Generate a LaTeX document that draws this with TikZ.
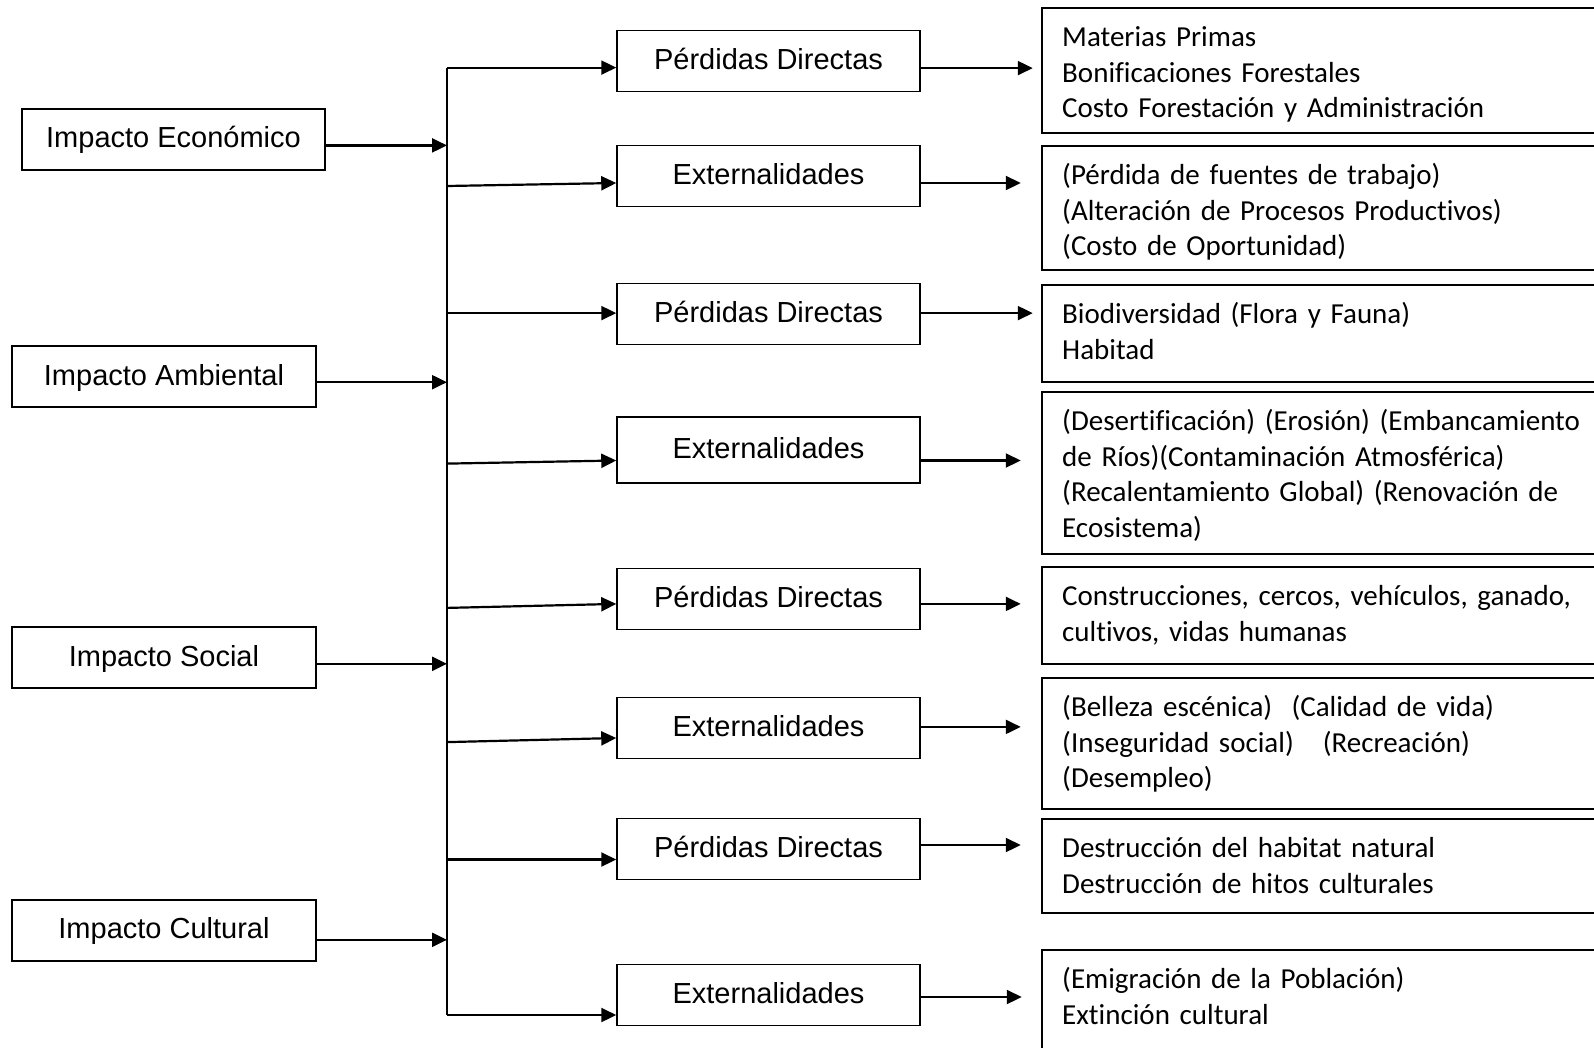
\documentclass[tikz,border=0pt]{standalone}
\usepackage{fontspec}
\usepackage{tikz}
\usetikzlibrary{arrows.meta}
\usetikzlibrary{positioning}
\newfontfamily\arialf{Liberation Sans}
\newfontfamily\calibrif[Ligatures=NoCommon]{Carlito}

\begin{document}
\begin{tikzpicture}[x=1pt,y=-1pt,
  caja/.style={draw, line width=1.5pt, minimum width=303pt, minimum height=61pt, inner sep=0pt,
    text height=21.5pt, text depth=4.5pt, font=\arialf\fontsize{29}{34}\selectfont},
  marco/.style={draw, line width=1.5pt, anchor=north west, minimum width=600pt, inner sep=0pt},
  lista/.style={inner sep=0pt, text width=560pt, align=left, font=\calibrif\fontsize{29}{35.6}\selectfont},
  flecha/.style={line width=2.2pt, -{Triangle[length=15pt,width=14pt]}}]
\useasboundingbox (0,0) rectangle (1594,1047);
\clip (0,0) rectangle (1594,1047);
% impactos
\node[caja] (eco) at (173.5,139.3) {Impacto Económico};
\node[caja, minimum width=304pt] (amb) at (164,376.5) {Impacto Ambiental};
\node[caja, minimum width=304pt] (soc) at (164,657.7) {Impacto Social};
\node[caja, minimum width=304pt] (cul) at (164,930.3) {Impacto Cultural};
% linea vertical
\coordinate (bus1) at (447,67.6);
\coordinate (bus2) at (447,1015);
\draw[line width=2.2pt] (bus1) -- (bus2);
\foreach \n/\d in {eco/6.1,amb/5.7,soc/6.1,cul/9.5}{
  \coordinate (s\n) at ([yshift=-\d pt]\n.east);
  \draw[flecha] (s\n) -- (s\n -| bus1);
}
% perdidas y externalidades
\foreach \i/\y/\h/\t in {1/61/61/Pérdidas Directas, 2/175.8/61/Externalidades,
  3/314.1/61/Pérdidas Directas, 4/449.8/66/Externalidades, 5/598.8/61/Pérdidas Directas,
  6/727.8/61/Externalidades, 7/849/61/Pérdidas Directas, 8/995/61/Externalidades}
  \node[caja, minimum height=\h pt] (m\i) at (768.5,\y) {\t};
% detalle
\foreach \i/\y/\h in {1/7/125, 2/145/124, 3/284/97, 4/391/162, 5/566/97, 6/677/131, 7/818/94, 8/949/110}
  \node[marco, minimum height=\h pt] (l\i) at (1041,\y) {};
\node[lista, below right=14.3pt and 21pt of l1.north west] (d1) {\strut Materias Primas\\
  Bonificaciones Forestales\\ Costo Forestación y Administración};
\node[lista, below right=14.3pt and 21pt of l2.north west] (d2) {\strut (Pérdida de fuentes de trabajo)\\
  (Alteración de Procesos Productivos)\\ (Costo de Oportunidad)};
\node[lista, below right=14.3pt and 21pt of l3.north west] (d3) {\strut Biodiversidad (Flora y Fauna)\\ Habitad};
\node[lista, below right=14.3pt and 21pt of l4.north west] (d4) {%
  \strut\makebox[496pt][s]{(Desertificación) (Erosión) (Embancamiento}\\
  \makebox[496pt][s]{de Ríos)(Contaminación Atmosférica)}\\
  \makebox[496pt][s]{(Recalentamiento Global) (Renovación de}\\ Ecosistema)};
\node[lista, below right=14.3pt and 21pt of l5.north west] (d5) {\strut Construcciones, cercos, vehículos, ganado,\\
  cultivos, vidas humanas};
\node[lista, below right=14.3pt and 21pt of l6.north west] (d6) {\strut (Belleza escénica)\ \ (Calidad de vida)\\
  (Inseguridad social)\ \ \ (Recreación)\\ (Desempleo)};
\node[lista, below right=14.3pt and 21pt of l7.north west] (d7) {\strut Destrucción del habitat natural\\
  Destrucción de hitos culturales};
\node[lista, below right=14.3pt and 21pt of l8.north west] (d8) {\strut (Emigración de la Población)\\
  Extinción cultural};
% flechas
\foreach \i/\q/\o/\p/\l in {1/6.6/6.6/7.1/112, 2/10.2/7.2/7.2/100, 3/-1/-1/-1/112,
  4/13.8/10.7/10.7/100, 5/9.1/5.1/5.1/100, 6/14.3/10.2/-0.9/100, 7/10.5/10.5/-4/100, 8/20/20/2/101}{
  \coordinate (j\i) at ([yshift=-\q pt]m\i.west -| bus1);
  \draw[flecha] (j\i) -- ([yshift=-\o pt]m\i.west);
  \coordinate (r\i) at ([yshift=-\p pt]m\i.east);
  \coordinate (t\i) at ([xshift=\l pt]r\i);
  \draw[flecha] (r\i) -- (t\i);
}
\end{tikzpicture}
\end{document}
